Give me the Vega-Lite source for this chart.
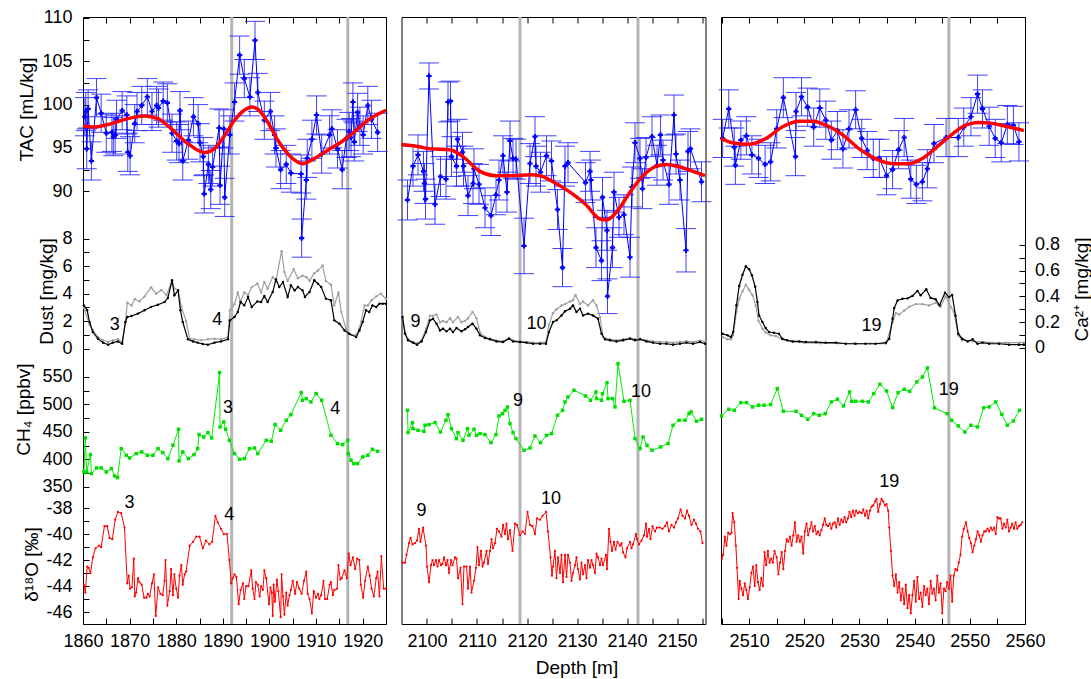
{
"$schema":"https://vega.github.io/schema/vega-lite/v6.json",
"padding":{"left":13,"top":8,"right":0,"bottom":0},
"background":"white",
"spacing":15.5,
"bounds":"flush",
"config":{"font":"Liberation Sans","view":{"stroke":"#000000","strokeWidth":1},
"axis":{"grid":false,"domain":false,"tickSize":-6,"tickColor":"#000000","tickWidth":1,"labelFontSize":18,"labelColor":"#000000","labelPadding":17,"titleFontSize":19,"titleFontWeight":"normal","titleColor":"#000000","labelFlush":false,"labelOverlap":false}},
"datasets":{
"vl1":[{"d":1891.9},{"d":1916.8}],
"vl2":[{"d":2118.6},{"d":2142.2}],
"vl3":[{"d":2546.2}],
"tac1":[{"d":1860.4,"v":98.6,"e":2.2},{"d":1860.6,"v":99.2,"e":2.2},{"d":1860.8,"v":94.9,"e":2.3},{"d":1861.1,"v":99.5,"e":2.2},{"d":1861.8,"v":93.5,"e":2.2},{"d":1862.9,"v":100.8,"e":2.2},{"d":1863.9,"v":99.0,"e":2.2},{"d":1865.0,"v":96.7,"e":2.2},{"d":1866.2,"v":96.8,"e":2.2},{"d":1866.5,"v":96.3,"e":2.2},{"d":1866.9,"v":96.5,"e":2.2},{"d":1867.2,"v":98.3,"e":2.2},{"d":1868.4,"v":99.3,"e":2.2},{"d":1869.4,"v":98.8,"e":2.2},{"d":1869.6,"v":94.5,"e":2.2},{"d":1870.1,"v":94.1,"e":2.2},{"d":1871.1,"v":97.8,"e":2.2},{"d":1871.6,"v":99.2,"e":2.2},{"d":1872.6,"v":99.9,"e":2.2},{"d":1873.8,"v":100.9,"e":2.1},{"d":1874.8,"v":99.2,"e":2.2},{"d":1875.8,"v":99.9,"e":2.2},{"d":1876.2,"v":99.6,"e":2.2},{"d":1877.2,"v":100.4,"e":2.2},{"d":1878.1,"v":100.2,"e":2.2},{"d":1879.1,"v":96.7,"e":2.2},{"d":1880.1,"v":95.8,"e":2.2},{"d":1880.6,"v":95.5,"e":2.2},{"d":1880.8,"v":99.3,"e":2.2},{"d":1881.4,"v":93.5,"e":2.2},{"d":1882.6,"v":95.9,"e":2.2},{"d":1883.7,"v":98.6,"e":2.2},{"d":1884.7,"v":97.8,"e":2.2},{"d":1885.1,"v":95.6,"e":2.2},{"d":1885.8,"v":94.0,"e":2.2},{"d":1886.0,"v":89.7,"e":2.2},{"d":1886.9,"v":93.1,"e":2.2},{"d":1887.4,"v":90.2,"e":2.2},{"d":1887.8,"v":92.8,"e":2.2},{"d":1889.2,"v":97.3,"e":2.2},{"d":1889.4,"v":90.7,"e":2.2},{"d":1890.2,"v":97.2,"e":2.2},{"d":1890.4,"v":89.3,"e":2.2},{"d":1891.5,"v":96.5,"e":2.2},{"d":1892.5,"v":100.3,"e":2.2},{"d":1893.6,"v":105.7,"e":2.2},{"d":1894.6,"v":103.0,"e":2.2},{"d":1895.8,"v":100.9,"e":2.2},{"d":1896.9,"v":107.4,"e":2.2},{"d":1897.5,"v":101.4,"e":2.2},{"d":1898.9,"v":98.2,"e":2.2},{"d":1900.2,"v":99.2,"e":2.2},{"d":1901.1,"v":96.5,"e":2.2},{"d":1901.4,"v":95.0,"e":2.2},{"d":1902.4,"v":92.5,"e":2.2},{"d":1903.6,"v":93.1,"e":2.2},{"d":1904.6,"v":92.1,"e":2.2},{"d":1906.8,"v":92.0,"e":2.2},{"d":1906.9,"v":84.6,"e":2.2},{"d":1907.9,"v":91.3,"e":2.2},{"d":1908.1,"v":93.8,"e":2.2},{"d":1909.1,"v":96.0,"e":2.2},{"d":1910.1,"v":98.8,"e":2.2},{"d":1911.2,"v":94.3,"e":2.2},{"d":1912.9,"v":96.5,"e":2.2},{"d":1913.4,"v":97.2,"e":2.2},{"d":1914.6,"v":94.9,"e":2.2},{"d":1915.6,"v":92.5,"e":2.2},{"d":1916.5,"v":96.1,"e":2.2},{"d":1917.1,"v":96.9,"e":2.2},{"d":1917.5,"v":96.2,"e":2.2},{"d":1917.9,"v":100.3,"e":2.2},{"d":1918.2,"v":95.7,"e":2.2},{"d":1918.9,"v":99.1,"e":2.2},{"d":1919.4,"v":97.5,"e":2.2},{"d":1920.1,"v":96.5,"e":2.2},{"d":1921.1,"v":99.9,"e":2.2},{"d":1921.9,"v":98.3,"e":2.2},{"d":1923.2,"v":96.8,"e":2.2}],
"sm1":[{"d":1860,"v":97.54},{"d":1862.5,"v":97.42},{"d":1866.1,"v":97.81},{"d":1869.6,"v":98.38},{"d":1873.2,"v":98.69},{"d":1876.1,"v":98.38},{"d":1878.9,"v":97.23},{"d":1882.5,"v":95.5},{"d":1886.1,"v":94.46},{"d":1888.2,"v":94.92},{"d":1890.4,"v":96.46},{"d":1892.5,"v":98.19},{"d":1894.6,"v":99.35},{"d":1896.1,"v":99.73},{"d":1897.5,"v":99.46},{"d":1899.6,"v":98.0},{"d":1901.8,"v":95.88},{"d":1904.6,"v":93.96},{"d":1907.1,"v":93.19},{"d":1909.6,"v":93.77},{"d":1912.5,"v":94.73},{"d":1915.4,"v":95.69},{"d":1918.2,"v":96.85},{"d":1921.1,"v":98.19},{"d":1925,"v":99.35}],
"du1":[{"d":1860.2,"v":3.15},{"d":1860.9,"v":2.79},{"d":1861.4,"v":1.94},{"d":1862.1,"v":1.21},{"d":1863.2,"v":0.73},{"d":1864.3,"v":0.44},{"d":1865.4,"v":0.29},{"d":1866.4,"v":0.44},{"d":1867.5,"v":0.53},{"d":1868.4,"v":0.36},{"d":1869.1,"v":1.94},{"d":1869.5,"v":2.3},{"d":1870.4,"v":2.38},{"d":1871.8,"v":2.55},{"d":1873.2,"v":2.79},{"d":1874.6,"v":3.03},{"d":1876.1,"v":3.2},{"d":1877.5,"v":3.39},{"d":1878.2,"v":3.68},{"d":1879.1,"v":4.97},{"d":1879.6,"v":3.88},{"d":1880.4,"v":4.24},{"d":1880.9,"v":2.79},{"d":1881.4,"v":1.94},{"d":1882.5,"v":0.68},{"d":1883.6,"v":0.53},{"d":1884.6,"v":0.44},{"d":1885.7,"v":0.34},{"d":1886.8,"v":0.29},{"d":1888.2,"v":0.44},{"d":1889.6,"v":0.53},{"d":1891.1,"v":0.68},{"d":1891.5,"v":2.06},{"d":1892.5,"v":2.3},{"d":1893.2,"v":2.67},{"d":1893.8,"v":3.39},{"d":1894.6,"v":3.15},{"d":1895.4,"v":3.76},{"d":1896.2,"v":3.03},{"d":1897.4,"v":3.44},{"d":1898.2,"v":3.39},{"d":1898.9,"v":3.83},{"d":1899.6,"v":3.39},{"d":1900.7,"v":4.12},{"d":1901.4,"v":5.04},{"d":1902.1,"v":4.48},{"d":1902.9,"v":4.85},{"d":1903.9,"v":3.76},{"d":1904.6,"v":4.61},{"d":1905.4,"v":4.24},{"d":1906.1,"v":4.48},{"d":1907.1,"v":4.24},{"d":1907.6,"v":3.76},{"d":1908.6,"v":4.12},{"d":1909.6,"v":4.97},{"d":1910.4,"v":4.73},{"d":1911.1,"v":4.48},{"d":1912.1,"v":3.64},{"d":1913.2,"v":3.52},{"d":1913.9,"v":2.06},{"d":1915.0,"v":1.82},{"d":1916.1,"v":1.33},{"d":1917.1,"v":1.09},{"d":1918.6,"v":0.85},{"d":1919.3,"v":1.33},{"d":1920.0,"v":1.94},{"d":1920.7,"v":2.79},{"d":1921.4,"v":2.67},{"d":1922.1,"v":3.15},{"d":1922.9,"v":3.03},{"d":1923.6,"v":3.27},{"d":1924.3,"v":3.27},{"d":1925.0,"v":3.27}],
"ca1":[{"d":1860.2,"v":0.31},{"d":1861.4,"v":0.18},{"d":1862.1,"v":0.14},{"d":1863.2,"v":0.085},{"d":1864.3,"v":0.06},{"d":1865.4,"v":0.047},{"d":1866.4,"v":0.06},{"d":1867.5,"v":0.067},{"d":1868.4,"v":0.047},{"d":1869.1,"v":0.2},{"d":1869.5,"v":0.35},{"d":1870.4,"v":0.33},{"d":1871.1,"v":0.38},{"d":1872.1,"v":0.36},{"d":1873.2,"v":0.4},{"d":1874.6,"v":0.47},{"d":1875.7,"v":0.42},{"d":1876.8,"v":0.45},{"d":1877.9,"v":0.41},{"d":1879.1,"v":0.52},{"d":1879.6,"v":0.46},{"d":1880.4,"v":0.45},{"d":1881.1,"v":0.32},{"d":1882.1,"v":0.21},{"d":1882.9,"v":0.072},{"d":1883.9,"v":0.067},{"d":1885.4,"v":0.06},{"d":1886.8,"v":0.067},{"d":1888.2,"v":0.072},{"d":1889.6,"v":0.067},{"d":1891.1,"v":0.085},{"d":1891.5,"v":0.29},{"d":1892.5,"v":0.34},{"d":1893.2,"v":0.43},{"d":1893.8,"v":0.36},{"d":1894.6,"v":0.43},{"d":1895.4,"v":0.41},{"d":1896.2,"v":0.47},{"d":1897.4,"v":0.5},{"d":1898.2,"v":0.43},{"d":1898.9,"v":0.51},{"d":1899.6,"v":0.46},{"d":1900.7,"v":0.55},{"d":1901.4,"v":0.52},{"d":1902.6,"v":0.75},{"d":1903.2,"v":0.59},{"d":1903.9,"v":0.52},{"d":1905.2,"v":0.61},{"d":1906.1,"v":0.54},{"d":1907.1,"v":0.56},{"d":1907.9,"v":0.55},{"d":1908.6,"v":0.52},{"d":1909.6,"v":0.58},{"d":1910.4,"v":0.6},{"d":1911.4,"v":0.64},{"d":1912.1,"v":0.52},{"d":1913.2,"v":0.49},{"d":1913.9,"v":0.33},{"d":1914.8,"v":0.43},{"d":1915.4,"v":0.28},{"d":1916.4,"v":0.15},{"d":1917.5,"v":0.1},{"d":1918.6,"v":0.1},{"d":1919.3,"v":0.15},{"d":1920.4,"v":0.33},{"d":1921.1,"v":0.33},{"d":1921.9,"v":0.37},{"d":1922.9,"v":0.4},{"d":1923.9,"v":0.42},{"d":1925.0,"v":0.38}],
"ch1":[{"d":1860.2,"v":377},{"d":1860.5,"v":439},{"d":1860.8,"v":377},{"d":1861.6,"v":408.5},{"d":1861.8,"v":373.9},{"d":1862.9,"v":384.2},{"d":1863.9,"v":384.2},{"d":1865.0,"v":376.9},{"d":1866.1,"v":383},{"d":1866.8,"v":369.6},{"d":1867.4,"v":366.6},{"d":1868.2,"v":419.4},{"d":1869.3,"v":407.3},{"d":1870.0,"v":402.4},{"d":1871.4,"v":410.3},{"d":1872.6,"v":413.4},{"d":1873.8,"v":407.3},{"d":1875.0,"v":407.3},{"d":1876.1,"v":419.4},{"d":1877.1,"v":412.2},{"d":1878.2,"v":401.2},{"d":1879.3,"v":425.5},{"d":1880.5,"v":454.7},{"d":1880.6,"v":397},{"d":1881.4,"v":413.4},{"d":1882.6,"v":401.2},{"d":1883.8,"v":408.5},{"d":1884.6,"v":419.4},{"d":1884.9,"v":445},{"d":1885.9,"v":440.7},{"d":1886.8,"v":448.6},{"d":1887.6,"v":438.9},{"d":1889.3,"v":558},{"d":1889.4,"v":458.9},{"d":1890.2,"v":468},{"d":1890.6,"v":454.7},{"d":1891.4,"v":434.6},{"d":1892.5,"v":410.3},{"d":1893.6,"v":400},{"d":1894.6,"v":401.2},{"d":1895.7,"v":419.4},{"d":1896.8,"v":420.7},{"d":1897.5,"v":410.3},{"d":1899.3,"v":434.6},{"d":1900.4,"v":432.8},{"d":1901.2,"v":463.2},{"d":1902.4,"v":452.9},{"d":1903.6,"v":471.1},{"d":1904.6,"v":481.4},{"d":1906.8,"v":521.5},{"d":1907.1,"v":507.5},{"d":1907.9,"v":510.6},{"d":1908.9,"v":504.5},{"d":1910.0,"v":519.7},{"d":1911.2,"v":507.5},{"d":1913.2,"v":443.7},{"d":1914.6,"v":428.6},{"d":1915.7,"v":426.7},{"d":1916.8,"v":434.6},{"d":1916.9,"v":410.3},{"d":1917.5,"v":398.2},{"d":1918.1,"v":392.1},{"d":1918.9,"v":392.1},{"d":1920.0,"v":404.3},{"d":1921.1,"v":407.3},{"d":1922.1,"v":418.2},{"d":1923.2,"v":414.6}],
"ox1":[{"d":1860.2,"v":-43.9},{"d":1860.5,"v":-44.5},{"d":1860.9,"v":-42.5},{"d":1861.2,"v":-42.6},{"d":1861.6,"v":-43.0},{"d":1862.1,"v":-41.8},{"d":1862.7,"v":-41.1},{"d":1863.4,"v":-40.9},{"d":1863.9,"v":-41.0},{"d":1864.6,"v":-39.4},{"d":1865.2,"v":-39.4},{"d":1865.7,"v":-40.3},{"d":1866.3,"v":-40.4},{"d":1866.9,"v":-38.9},{"d":1867.5,"v":-38.3},{"d":1868.2,"v":-38.4},{"d":1868.9,"v":-39.5},{"d":1869.5,"v":-43.8},{"d":1869.8,"v":-43.2},{"d":1870.1,"v":-44.2},{"d":1870.5,"v":-44.1},{"d":1870.9,"v":-41.9},{"d":1871.1,"v":-44.8},{"d":1871.4,"v":-44.5},{"d":1871.8,"v":-43.4},{"d":1872.1,"v":-43.7},{"d":1872.6,"v":-43.9},{"d":1873.1,"v":-44.9},{"d":1873.6,"v":-44.9},{"d":1873.9,"v":-44.6},{"d":1874.3,"v":-44.8},{"d":1874.8,"v":-43.8},{"d":1875.2,"v":-43.1},{"d":1875.6,"v":-46.3},{"d":1876.1,"v":-44.1},{"d":1876.6,"v":-44.6},{"d":1877.1,"v":-44.7},{"d":1877.5,"v":-43.6},{"d":1877.7,"v":-42.0},{"d":1878.1,"v":-45.5},{"d":1878.6,"v":-44.4},{"d":1878.9,"v":-42.7},{"d":1879.3,"v":-44.7},{"d":1879.6,"v":-43.1},{"d":1880.0,"v":-44.2},{"d":1880.4,"v":-44.9},{"d":1880.7,"v":-43.2},{"d":1881.1,"v":-42.4},{"d":1881.4,"v":-43.9},{"d":1881.8,"v":-43.1},{"d":1882.1,"v":-42.9},{"d":1882.9,"v":-40.9},{"d":1883.6,"v":-40.6},{"d":1884.3,"v":-40.2},{"d":1885.0,"v":-40.2},{"d":1885.7,"v":-41.1},{"d":1886.4,"v":-40.5},{"d":1887.1,"v":-40.8},{"d":1887.7,"v":-40.6},{"d":1888.4,"v":-38.6},{"d":1888.9,"v":-39.1},{"d":1889.6,"v":-39.6},{"d":1890.2,"v":-40.0},{"d":1890.9,"v":-40.0},{"d":1891.4,"v":-42.0},{"d":1891.8,"v":-43.8},{"d":1892.1,"v":-43.4},{"d":1892.5,"v":-43.1},{"d":1892.9,"v":-43.3},{"d":1893.4,"v":-45.4},{"d":1893.8,"v":-44.3},{"d":1894.3,"v":-43.8},{"d":1894.6,"v":-45.0},{"d":1895.0,"v":-44.0},{"d":1895.5,"v":-44.0},{"d":1896.1,"v":-42.8},{"d":1896.4,"v":-44.2},{"d":1896.8,"v":-45.0},{"d":1897.1,"v":-43.7},{"d":1897.5,"v":-43.9},{"d":1897.9,"v":-44.8},{"d":1898.2,"v":-44.0},{"d":1898.6,"v":-44.3},{"d":1898.9,"v":-42.8},{"d":1899.3,"v":-43.4},{"d":1899.9,"v":-45.4},{"d":1900.2,"v":-44.1},{"d":1900.5,"v":-44.5},{"d":1900.7,"v":-46.3},{"d":1900.9,"v":-43.9},{"d":1901.2,"v":-45.2},{"d":1901.6,"v":-43.5},{"d":1901.9,"v":-44.4},{"d":1902.4,"v":-46.4},{"d":1902.6,"v":-43.1},{"d":1902.9,"v":-44.8},{"d":1903.2,"v":-46.2},{"d":1903.6,"v":-44.5},{"d":1903.9,"v":-45.5},{"d":1904.3,"v":-44.7},{"d":1904.6,"v":-44.3},{"d":1905.0,"v":-43.6},{"d":1905.5,"v":-44.6},{"d":1905.9,"v":-43.7},{"d":1906.4,"v":-44.2},{"d":1906.9,"v":-44.6},{"d":1907.4,"v":-43.6},{"d":1907.9,"v":-42.9},{"d":1908.2,"v":-44.6},{"d":1908.6,"v":-45.0},{"d":1909.1,"v":-46.1},{"d":1909.5,"v":-44.4},{"d":1910.0,"v":-44.9},{"d":1910.4,"v":-44.6},{"d":1910.7,"v":-45.0},{"d":1911.1,"v":-44.7},{"d":1911.6,"v":-43.6},{"d":1911.9,"v":-45.0},{"d":1912.4,"v":-45.0},{"d":1912.9,"v":-43.9},{"d":1913.2,"v":-43.7},{"d":1913.6,"v":-44.7},{"d":1913.9,"v":-44.3},{"d":1914.5,"v":-44.2},{"d":1914.8,"v":-42.4},{"d":1915.2,"v":-43.5},{"d":1915.5,"v":-43.4},{"d":1916.1,"v":-42.8},{"d":1916.6,"v":-43.4},{"d":1917.0,"v":-41.5},{"d":1917.4,"v":-42.4},{"d":1917.9,"v":-41.8},{"d":1918.4,"v":-42.7},{"d":1918.8,"v":-41.9},{"d":1919.3,"v":-42.0},{"d":1919.6,"v":-43.9},{"d":1920.1,"v":-44.9},{"d":1920.5,"v":-43.6},{"d":1921.1,"v":-42.5},{"d":1921.5,"v":-43.2},{"d":1921.9,"v":-44.2},{"d":1922.4,"v":-44.8},{"d":1922.9,"v":-43.4},{"d":1923.2,"v":-42.9},{"d":1923.6,"v":-44.8},{"d":1924.0,"v":-41.7},{"d":1924.5,"v":-44.2},{"d":1925.0,"v":-44.2}],
"td1":[{"d":1866.8,"v":1.7,"t":"3"},{"d":1888.8,"v":2.07,"t":"4"}],
"tc1":[{"d":1891.1,"v":493.5,"t":"3"},{"d":1914.1,"v":492,"t":"4"}],
"to1":[{"d":1870,"v":-37.6,"t":"3"},{"d":1891.4,"v":-38.5,"t":"4"}],
"tac2":[{"d":2096.1,"v":89.0,"e":2.3},{"d":2097.2,"v":92.9,"e":2.3},{"d":2098.2,"v":94.2,"e":2.3},{"d":2099.3,"v":92.3,"e":2.3},{"d":2099.5,"v":90.9,"e":2.3},{"d":2099.7,"v":89.1,"e":2.3},{"d":2100.4,"v":103.3,"e":1.5},{"d":2101.6,"v":88.5,"e":2.3},{"d":2102.7,"v":91.7,"e":2.3},{"d":2103.8,"v":91.4,"e":2.3},{"d":2104.2,"v":100.3,"e":2.3},{"d":2104.7,"v":100.4,"e":2.3},{"d":2104.9,"v":94.0,"e":2.3},{"d":2105.9,"v":92.9,"e":2.3},{"d":2106.1,"v":96.0,"e":2.3},{"d":2107.1,"v":94.5,"e":2.3},{"d":2107.3,"v":92.9,"e":2.3},{"d":2108.2,"v":89.5,"e":2.3},{"d":2109.2,"v":90.9,"e":2.3},{"d":2109.4,"v":92.6,"e":2.3},{"d":2110.4,"v":90.8,"e":2.3},{"d":2111.6,"v":88.1,"e":2.3},{"d":2112.8,"v":87.2,"e":2.3},{"d":2113.8,"v":89.6,"e":2.3},{"d":2114.4,"v":91.3,"e":2.3},{"d":2115.2,"v":94.1,"e":2.3},{"d":2116.0,"v":89.9,"e":2.3},{"d":2116.6,"v":95.8,"e":2.3},{"d":2117.2,"v":93.8,"e":2.3},{"d":2117.8,"v":93.7,"e":2.3},{"d":2119.4,"v":83.7,"e":3.2},{"d":2120.6,"v":93.2,"e":2.3},{"d":2121.6,"v":96.3,"e":2.3},{"d":2121.8,"v":92.9,"e":2.3},{"d":2122.7,"v":92.2,"e":2.3},{"d":2123.9,"v":94.1,"e":2.3},{"d":2124.9,"v":93.5,"e":2.3},{"d":2126.1,"v":87.9,"e":2.3},{"d":2127.1,"v":81.2,"e":2.2},{"d":2127.6,"v":92.9,"e":2.3},{"d":2128.2,"v":93.3,"e":2.3},{"d":2131.7,"v":91.0,"e":2.3},{"d":2132.6,"v":92.3,"e":2.3},{"d":2132.8,"v":91.3,"e":2.3},{"d":2133.8,"v":83.5,"e":2.3},{"d":2134.9,"v":82.0,"e":2.3},{"d":2135.1,"v":89.3,"e":2.3},{"d":2136.0,"v":85.5,"e":2.3},{"d":2136.1,"v":77.9,"e":2.0},{"d":2137.1,"v":83.5,"e":2.3},{"d":2137.4,"v":89.9,"e":2.3},{"d":2138.4,"v":87.0,"e":2.3},{"d":2139.4,"v":87.3,"e":2.3},{"d":2140.6,"v":82.4,"e":2.3},{"d":2141.0,"v":90.5,"e":2.3},{"d":2141.6,"v":95.6,"e":2.3},{"d":2142.6,"v":93.8,"e":2.3},{"d":2143.1,"v":90.3,"e":2.3},{"d":2143.8,"v":93.9,"e":2.3},{"d":2145.0,"v":96.3,"e":2.3},{"d":2146.0,"v":93.0,"e":2.3},{"d":2146.7,"v":96.5,"e":2.3},{"d":2147.2,"v":93.6,"e":2.3},{"d":2148.4,"v":90.8,"e":2.3},{"d":2149.4,"v":98.8,"e":2.3},{"d":2149.8,"v":94.3,"e":2.3},{"d":2150.6,"v":91.3,"e":2.3},{"d":2151.8,"v":83.2,"e":2.5},{"d":2152.2,"v":94.6,"e":2.3},{"d":2152.7,"v":94.9,"e":2.3},{"d":2154.9,"v":91.1,"e":2.3}],
"sm2":[{"d":2094.9,"v":95.4},{"d":2097.9,"v":95.2},{"d":2100.6,"v":94.9},{"d":2104.6,"v":94.8},{"d":2107.2,"v":94.0},{"d":2110.6,"v":92.3},{"d":2113.9,"v":91.8},{"d":2117.2,"v":91.8},{"d":2120.6,"v":91.9},{"d":2122.6,"v":91.8},{"d":2125.2,"v":91.1},{"d":2128.6,"v":89.9},{"d":2131.9,"v":88.4},{"d":2134.6,"v":86.8},{"d":2135.9,"v":86.7},{"d":2137.9,"v":87.6},{"d":2140.6,"v":89.9},{"d":2143.2,"v":91.8},{"d":2145.9,"v":92.9},{"d":2147.9,"v":93.1},{"d":2150.6,"v":92.8},{"d":2153.2,"v":92.3},{"d":2155.6,"v":91.8}],
"du2":[{"d":2095.1,"v":2.3},{"d":2095.6,"v":1.09},{"d":2096.2,"v":0.61},{"d":2097.2,"v":0.44},{"d":2098.0,"v":0.29},{"d":2098.9,"v":0.53},{"d":2099.8,"v":1.21},{"d":2100.6,"v":2.06},{"d":2101.2,"v":2.18},{"d":2101.9,"v":1.82},{"d":2102.6,"v":1.33},{"d":2103.2,"v":1.45},{"d":2103.9,"v":1.26},{"d":2104.6,"v":1.45},{"d":2105.2,"v":1.21},{"d":2105.9,"v":1.5},{"d":2106.9,"v":1.26},{"d":2107.6,"v":1.41},{"d":2108.2,"v":1.58},{"d":2109.1,"v":1.82},{"d":2109.9,"v":1.45},{"d":2110.6,"v":0.97},{"d":2111.6,"v":0.78},{"d":2112.6,"v":0.68},{"d":2113.9,"v":0.53},{"d":2115.2,"v":0.48},{"d":2116.4,"v":0.73},{"d":2117.2,"v":0.53},{"d":2118.6,"v":0.48},{"d":2119.9,"v":0.44},{"d":2121.2,"v":0.36},{"d":2122.6,"v":0.36},{"d":2123.8,"v":0.36},{"d":2124.4,"v":1.21},{"d":2125.2,"v":1.94},{"d":2125.9,"v":2.06},{"d":2126.9,"v":2.42},{"d":2127.6,"v":2.72},{"d":2128.6,"v":2.91},{"d":2129.2,"v":3.15},{"d":2129.9,"v":2.67},{"d":2130.6,"v":2.91},{"d":2131.2,"v":2.42},{"d":2132.2,"v":2.55},{"d":2133.2,"v":2.42},{"d":2134.2,"v":2.18},{"d":2134.9,"v":1.09},{"d":2135.6,"v":0.68},{"d":2136.6,"v":0.61},{"d":2137.9,"v":0.53},{"d":2139.2,"v":0.61},{"d":2140.6,"v":0.73},{"d":2141.6,"v":0.61},{"d":2142.6,"v":0.68},{"d":2143.9,"v":0.53},{"d":2145.2,"v":0.44},{"d":2146.6,"v":0.36},{"d":2147.9,"v":0.36},{"d":2149.2,"v":0.29},{"d":2150.6,"v":0.36},{"d":2151.9,"v":0.44},{"d":2153.2,"v":0.36},{"d":2154.6,"v":0.48},{"d":2155.6,"v":0.36}],
"ca2":[{"d":2095.1,"v":0.25},{"d":2095.6,"v":0.12},{"d":2096.2,"v":0.067},{"d":2097.2,"v":0.047},{"d":2098.0,"v":0.034},{"d":2098.9,"v":0.059},{"d":2099.8,"v":0.15},{"d":2100.6,"v":0.25},{"d":2101.2,"v":0.25},{"d":2101.9,"v":0.26},{"d":2102.6,"v":0.2},{"d":2103.2,"v":0.21},{"d":2103.9,"v":0.2},{"d":2104.6,"v":0.23},{"d":2105.2,"v":0.2},{"d":2106.2,"v":0.24},{"d":2106.9,"v":0.2},{"d":2107.6,"v":0.21},{"d":2108.2,"v":0.23},{"d":2109.1,"v":0.28},{"d":2109.9,"v":0.23},{"d":2110.6,"v":0.12},{"d":2111.6,"v":0.085},{"d":2112.6,"v":0.072},{"d":2113.9,"v":0.059},{"d":2115.2,"v":0.052},{"d":2116.4,"v":0.078},{"d":2117.2,"v":0.059},{"d":2118.6,"v":0.052},{"d":2119.9,"v":0.047},{"d":2121.2,"v":0.041},{"d":2122.6,"v":0.041},{"d":2123.8,"v":0.047},{"d":2124.4,"v":0.18},{"d":2125.2,"v":0.27},{"d":2125.9,"v":0.3},{"d":2126.9,"v":0.33},{"d":2127.6,"v":0.34},{"d":2128.6,"v":0.36},{"d":2129.2,"v":0.37},{"d":2129.7,"v":0.41},{"d":2130.6,"v":0.34},{"d":2131.2,"v":0.36},{"d":2132.2,"v":0.33},{"d":2133.2,"v":0.37},{"d":2133.9,"v":0.33},{"d":2134.6,"v":0.24},{"d":2135.2,"v":0.085},{"d":2136.6,"v":0.067},{"d":2137.9,"v":0.059},{"d":2139.2,"v":0.067},{"d":2140.6,"v":0.078},{"d":2141.6,"v":0.067},{"d":2142.6,"v":0.072},{"d":2143.9,"v":0.059},{"d":2145.2,"v":0.052},{"d":2146.6,"v":0.047},{"d":2147.9,"v":0.047},{"d":2149.2,"v":0.041},{"d":2150.6,"v":0.047},{"d":2151.9,"v":0.052},{"d":2153.2,"v":0.047},{"d":2154.6,"v":0.057},{"d":2155.6,"v":0.047}],
"ch2":[{"d":2096.1,"v":489.3},{"d":2096.2,"v":448.6},{"d":2097.1,"v":466.8},{"d":2097.2,"v":455.9},{"d":2098.2,"v":452.9},{"d":2099.4,"v":451.0},{"d":2099.6,"v":462.0},{"d":2100.4,"v":463.2},{"d":2101.6,"v":466.8},{"d":2102.7,"v":449.8},{"d":2103.8,"v":471.1},{"d":2104.2,"v":481.4},{"d":2104.9,"v":455.9},{"d":2105.9,"v":437.7},{"d":2106.2,"v":448.6},{"d":2107.2,"v":434.6},{"d":2108.1,"v":455.9},{"d":2108.4,"v":443.7},{"d":2109.4,"v":454.7},{"d":2109.9,"v":443.7},{"d":2110.6,"v":446.8},{"d":2111.6,"v":445.0},{"d":2112.8,"v":430.4},{"d":2113.8,"v":445.0},{"d":2114.4,"v":479.0},{"d":2115.1,"v":483.2},{"d":2115.6,"v":489.3},{"d":2116.1,"v":495.4},{"d":2116.6,"v":465.0},{"d":2117.2,"v":448.6},{"d":2117.8,"v":437.7},{"d":2119.4,"v":416.4},{"d":2120.6,"v":420.7},{"d":2121.6,"v":442.5},{"d":2122.7,"v":430.4},{"d":2123.9,"v":443.7},{"d":2124.9,"v":446.8},{"d":2126.1,"v":480.2},{"d":2127.1,"v":489.3},{"d":2127.6,"v":504.5},{"d":2128.2,"v":513.6},{"d":2129.4,"v":525.8},{"d":2131.7,"v":515.4},{"d":2132.7,"v":507.5},{"d":2133.8,"v":522.7},{"d":2133.9,"v":510.6},{"d":2134.9,"v":507.5},{"d":2135.1,"v":519.7},{"d":2136.0,"v":539.7},{"d":2136.2,"v":510.6},{"d":2137.1,"v":510.6},{"d":2137.6,"v":495.4},{"d":2138.2,"v":574.4},{"d":2139.4,"v":505.7},{"d":2140.6,"v":507.5},{"d":2141.6,"v":437.7},{"d":2142.6,"v":419.4},{"d":2143.2,"v":440.7},{"d":2144.0,"v":425.5},{"d":2145.0,"v":416.4},{"d":2146.7,"v":422.5},{"d":2148.2,"v":428.6},{"d":2149.2,"v":462.0},{"d":2150.4,"v":471.1},{"d":2151.6,"v":471.1},{"d":2152.4,"v":483.2},{"d":2152.8,"v":486.3},{"d":2153.9,"v":469.3},{"d":2154.9,"v":472.9}],
"ox2":[{"d":2095.1,"v":-42.2},{"d":2095.6,"v":-42.2},{"d":2095.9,"v":-41.6},{"d":2096.4,"v":-40.7},{"d":2096.7,"v":-40.3},{"d":2097.1,"v":-40.8},{"d":2097.6,"v":-40.7},{"d":2098.0,"v":-40.5},{"d":2098.4,"v":-39.6},{"d":2098.7,"v":-40.6},{"d":2099.2,"v":-39.5},{"d":2099.8,"v":-40.9},{"d":2100.0,"v":-42.5},{"d":2100.4,"v":-43.7},{"d":2100.8,"v":-42.4},{"d":2101.1,"v":-42.0},{"d":2101.4,"v":-42.4},{"d":2101.8,"v":-42.0},{"d":2102.1,"v":-42.5},{"d":2102.4,"v":-42.0},{"d":2102.8,"v":-42.4},{"d":2103.1,"v":-42.3},{"d":2103.4,"v":-41.8},{"d":2103.8,"v":-42.4},{"d":2104.1,"v":-42.0},{"d":2104.4,"v":-43.0},{"d":2104.8,"v":-42.0},{"d":2105.1,"v":-42.4},{"d":2105.6,"v":-41.8},{"d":2105.9,"v":-41.9},{"d":2106.2,"v":-43.4},{"d":2106.7,"v":-42.6},{"d":2107.1,"v":-45.4},{"d":2107.4,"v":-42.5},{"d":2107.9,"v":-42.5},{"d":2108.2,"v":-44.2},{"d":2108.6,"v":-42.5},{"d":2108.9,"v":-44.5},{"d":2109.4,"v":-43.6},{"d":2109.8,"v":-42.6},{"d":2110.1,"v":-41.0},{"d":2110.4,"v":-42.4},{"d":2110.8,"v":-41.3},{"d":2111.1,"v":-42.5},{"d":2111.4,"v":-42.2},{"d":2111.9,"v":-41.3},{"d":2112.2,"v":-42.3},{"d":2112.6,"v":-41.3},{"d":2112.9,"v":-40.4},{"d":2113.2,"v":-41.1},{"d":2113.6,"v":-40.7},{"d":2114.0,"v":-39.6},{"d":2114.4,"v":-39.8},{"d":2114.9,"v":-40.2},{"d":2115.2,"v":-39.3},{"d":2115.6,"v":-40.0},{"d":2115.9,"v":-39.2},{"d":2116.2,"v":-40.4},{"d":2116.6,"v":-39.7},{"d":2117.1,"v":-41.3},{"d":2117.6,"v":-39.2},{"d":2118.0,"v":-39.3},{"d":2118.6,"v":-40.1},{"d":2119.1,"v":-39.8},{"d":2119.6,"v":-40.0},{"d":2120.1,"v":-38.3},{"d":2120.6,"v":-39.3},{"d":2121.1,"v":-39.4},{"d":2121.6,"v":-40.0},{"d":2122.0,"v":-38.8},{"d":2122.6,"v":-38.9},{"d":2123.1,"v":-38.6},{"d":2123.8,"v":-38.3},{"d":2124.2,"v":-39.8},{"d":2124.7,"v":-41.8},{"d":2125.0,"v":-43.2},{"d":2125.2,"v":-42.5},{"d":2125.6,"v":-41.3},{"d":2125.9,"v":-43.4},{"d":2126.2,"v":-41.8},{"d":2126.6,"v":-43.0},{"d":2126.9,"v":-41.6},{"d":2127.2,"v":-43.7},{"d":2127.6,"v":-41.6},{"d":2127.9,"v":-43.3},{"d":2128.2,"v":-41.6},{"d":2128.6,"v":-42.2},{"d":2128.9,"v":-43.6},{"d":2129.2,"v":-43.0},{"d":2129.6,"v":-42.4},{"d":2129.9,"v":-41.8},{"d":2130.2,"v":-42.7},{"d":2130.6,"v":-43.5},{"d":2130.9,"v":-42.2},{"d":2131.2,"v":-43.1},{"d":2131.6,"v":-42.4},{"d":2131.9,"v":-43.4},{"d":2132.2,"v":-42.0},{"d":2132.6,"v":-42.6},{"d":2132.9,"v":-42.0},{"d":2133.2,"v":-42.4},{"d":2133.6,"v":-43.0},{"d":2133.9,"v":-41.5},{"d":2134.2,"v":-41.8},{"d":2134.6,"v":-42.4},{"d":2134.9,"v":-41.9},{"d":2135.2,"v":-42.4},{"d":2135.8,"v":-41.6},{"d":2136.0,"v":-42.7},{"d":2136.4,"v":-39.6},{"d":2136.7,"v":-40.6},{"d":2137.0,"v":-41.3},{"d":2137.4,"v":-40.6},{"d":2137.7,"v":-41.2},{"d":2138.1,"v":-40.6},{"d":2138.6,"v":-40.9},{"d":2138.9,"v":-40.7},{"d":2139.2,"v":-41.4},{"d":2139.7,"v":-41.8},{"d":2140.0,"v":-41.1},{"d":2140.6,"v":-40.6},{"d":2140.9,"v":-41.1},{"d":2141.2,"v":-40.8},{"d":2141.8,"v":-40.0},{"d":2142.0,"v":-40.4},{"d":2142.4,"v":-40.8},{"d":2142.9,"v":-40.5},{"d":2143.4,"v":-40.1},{"d":2143.8,"v":-39.2},{"d":2144.0,"v":-40.2},{"d":2144.4,"v":-39.6},{"d":2144.7,"v":-40.4},{"d":2145.1,"v":-39.4},{"d":2145.6,"v":-39.8},{"d":2146.0,"v":-39.5},{"d":2146.6,"v":-39.5},{"d":2147.1,"v":-39.6},{"d":2147.6,"v":-39.4},{"d":2148.0,"v":-39.1},{"d":2148.4,"v":-39.8},{"d":2148.9,"v":-39.3},{"d":2149.4,"v":-39.5},{"d":2149.8,"v":-39.1},{"d":2150.2,"v":-38.8},{"d":2150.7,"v":-38.1},{"d":2151.1,"v":-38.6},{"d":2151.6,"v":-38.8},{"d":2152.0,"v":-38.2},{"d":2152.4,"v":-38.6},{"d":2152.9,"v":-39.3},{"d":2153.4,"v":-38.9},{"d":2153.8,"v":-39.2},{"d":2154.2,"v":-39.6},{"d":2154.7,"v":-39.8},{"d":2155.1,"v":-40.7}],
"td2":[{"d":2097.7,"v":1.94,"t":"9"},{"d":2121.9,"v":1.82,"t":"10"}],
"tc2":[{"d":2118.2,"v":505.7,"t":"9"},{"d":2142.8,"v":522.7,"t":"10"}],
"to2":[{"d":2098.9,"v":-38.2,"t":"9"},{"d":2124.8,"v":-37.3,"t":"10"}],
"tac3":[{"d":2505.2,"v":96.1,"e":2.2},{"d":2506.3,"v":99.5,"e":2.2},{"d":2507.3,"v":95.1,"e":2.2},{"d":2507.5,"v":93.0,"e":2.2},{"d":2508.5,"v":95.9,"e":2.2},{"d":2509.5,"v":96.4,"e":2.2},{"d":2510.5,"v":94.2,"e":2.2},{"d":2511.7,"v":93.8,"e":2.2},{"d":2512.9,"v":93.1,"e":2.2},{"d":2513.9,"v":93.4,"e":2.2},{"d":2515.0,"v":97.2,"e":2.2},{"d":2516.2,"v":100.8,"e":2.3},{"d":2518.4,"v":94.0,"e":2.2},{"d":2518.5,"v":99.2,"e":2.2},{"d":2519.5,"v":100.9,"e":2.2},{"d":2520.6,"v":99.7,"e":2.2},{"d":2521.7,"v":97.4,"e":2.2},{"d":2522.8,"v":99.6,"e":2.2},{"d":2523.9,"v":98.2,"e":2.2},{"d":2524.9,"v":95.9,"e":2.2},{"d":2526.0,"v":97.0,"e":2.2},{"d":2527.0,"v":94.9,"e":2.2},{"d":2528.1,"v":97.2,"e":2.2},{"d":2529.3,"v":99.4,"e":2.2},{"d":2530.4,"v":96.1,"e":2.2},{"d":2531.4,"v":94.7,"e":2.2},{"d":2532.5,"v":93.8,"e":2.2},{"d":2533.6,"v":93.8,"e":2.2},{"d":2534.9,"v":91.8,"e":2.2},{"d":2536.0,"v":92.5,"e":2.2},{"d":2537.1,"v":94.8,"e":2.2},{"d":2538.1,"v":96.2,"e":2.2},{"d":2539.3,"v":91.4,"e":2.2},{"d":2540.3,"v":90.8,"e":2.2},{"d":2541.4,"v":91.1,"e":2.2},{"d":2542.3,"v":92.6,"e":2.2},{"d":2543.5,"v":95.5,"e":2.2},{"d":2545.7,"v":96.2,"e":2.2},{"d":2547.9,"v":96.2,"e":2.2},{"d":2548.9,"v":97.4,"e":2.2},{"d":2550.2,"v":98.6,"e":2.2},{"d":2551.4,"v":101.2,"e":2.2},{"d":2552.3,"v":99.5,"e":2.2},{"d":2553.5,"v":97.5,"e":2.2},{"d":2554.6,"v":96.1,"e":2.2},{"d":2555.7,"v":95.6,"e":2.2},{"d":2556.8,"v":97.7,"e":2.2},{"d":2557.9,"v":97.6,"e":2.2},{"d":2558.9,"v":95.7,"e":2.2}],
"sm3":[{"d":2504.9,"v":96.08},{"d":2507.0,"v":95.6},{"d":2510.0,"v":95.42},{"d":2513.0,"v":96.08},{"d":2516.0,"v":97.42},{"d":2519.1,"v":98.08},{"d":2521.5,"v":98.08},{"d":2523.9,"v":97.62},{"d":2526.9,"v":96.54},{"d":2529.9,"v":94.92},{"d":2532.9,"v":93.77},{"d":2536.0,"v":93.19},{"d":2539.0,"v":93.19},{"d":2541.4,"v":93.77},{"d":2543.8,"v":95.0},{"d":2546.2,"v":96.27},{"d":2548.6,"v":97.42},{"d":2551.7,"v":97.92},{"d":2554.1,"v":97.81},{"d":2557.1,"v":97.42},{"d":2559.8,"v":97.0}],
"du3":[{"d":2505.2,"v":1.09},{"d":2506.1,"v":0.97},{"d":2506.7,"v":0.85},{"d":2507.1,"v":1.21},{"d":2507.7,"v":3.16},{"d":2508.2,"v":4.56},{"d":2508.8,"v":5.38},{"d":2509.4,"v":6.0},{"d":2510.0,"v":5.77},{"d":2510.5,"v":5.34},{"d":2511.1,"v":4.5},{"d":2511.5,"v":3.4},{"d":2511.8,"v":2.42},{"d":2512.4,"v":1.94},{"d":2513.0,"v":1.5},{"d":2513.6,"v":1.21},{"d":2514.5,"v":1.16},{"d":2515.4,"v":1.09},{"d":2516.0,"v":0.73},{"d":2516.9,"v":0.61},{"d":2517.9,"v":0.53},{"d":2519.1,"v":0.53},{"d":2520.3,"v":0.48},{"d":2522.1,"v":0.48},{"d":2523.9,"v":0.44},{"d":2525.7,"v":0.44},{"d":2527.5,"v":0.36},{"d":2529.3,"v":0.36},{"d":2531.1,"v":0.36},{"d":2532.9,"v":0.36},{"d":2534.8,"v":0.44},{"d":2535.4,"v":0.73},{"d":2536.0,"v":2.18},{"d":2536.3,"v":2.96},{"d":2536.9,"v":3.5},{"d":2537.8,"v":3.63},{"d":2538.7,"v":3.66},{"d":2539.6,"v":3.84},{"d":2540.5,"v":4.2},{"d":2541.1,"v":3.88},{"d":2542.1,"v":4.32},{"d":2542.9,"v":3.69},{"d":2543.8,"v":3.59},{"d":2544.5,"v":3.16},{"d":2545.5,"v":4.07},{"d":2546.2,"v":3.75},{"d":2546.8,"v":3.9},{"d":2547.4,"v":2.42},{"d":2547.9,"v":1.09},{"d":2548.6,"v":0.73},{"d":2549.6,"v":0.53},{"d":2550.5,"v":0.68},{"d":2551.4,"v":0.36},{"d":2552.3,"v":0.44},{"d":2553.5,"v":0.36},{"d":2555.3,"v":0.36},{"d":2557.1,"v":0.29},{"d":2558.9,"v":0.29},{"d":2559.8,"v":0.29}],
"ca3":[{"d":2505.2,"v":0.085},{"d":2506.1,"v":0.067},{"d":2506.7,"v":0.067},{"d":2507.1,"v":0.098},{"d":2507.7,"v":0.28},{"d":2508.2,"v":0.38},{"d":2508.8,"v":0.44},{"d":2509.4,"v":0.49},{"d":2510.0,"v":0.45},{"d":2510.6,"v":0.41},{"d":2511.2,"v":0.33},{"d":2511.7,"v":0.21},{"d":2512.4,"v":0.15},{"d":2513.0,"v":0.12},{"d":2513.9,"v":0.098},{"d":2514.8,"v":0.093},{"d":2516.0,"v":0.067},{"d":2517.9,"v":0.047},{"d":2520.0,"v":0.041},{"d":2523.0,"v":0.036},{"d":2526.0,"v":0.036},{"d":2529.0,"v":0.034},{"d":2532.0,"v":0.034},{"d":2534.8,"v":0.034},{"d":2536.0,"v":0.2},{"d":2536.6,"v":0.27},{"d":2537.2,"v":0.26},{"d":2538.1,"v":0.29},{"d":2539.0,"v":0.32},{"d":2540.2,"v":0.34},{"d":2541.4,"v":0.34},{"d":2542.6,"v":0.33},{"d":2543.8,"v":0.35},{"d":2544.7,"v":0.32},{"d":2545.6,"v":0.4},{"d":2546.5,"v":0.32},{"d":2547.1,"v":0.28},{"d":2547.9,"v":0.098},{"d":2548.6,"v":0.06},{"d":2550.5,"v":0.052},{"d":2552.3,"v":0.047},{"d":2554.1,"v":0.041},{"d":2556.5,"v":0.041},{"d":2558.9,"v":0.041},{"d":2559.8,"v":0.041}],
"ch3":[{"d":2505.0,"v":479.0},{"d":2506.3,"v":491.1},{"d":2507.3,"v":489.3},{"d":2508.5,"v":503.3},{"d":2509.5,"v":503.3},{"d":2510.6,"v":495.4},{"d":2511.7,"v":498.4},{"d":2512.7,"v":498.4},{"d":2513.9,"v":499.6},{"d":2515.1,"v":528.8},{"d":2516.2,"v":487.5},{"d":2518.5,"v":487.5},{"d":2519.5,"v":480.2},{"d":2520.6,"v":472.9},{"d":2521.7,"v":483.2},{"d":2522.7,"v":480.2},{"d":2523.8,"v":483.2},{"d":2524.9,"v":504.5},{"d":2526.0,"v":509.4},{"d":2527.1,"v":497.2},{"d":2528.2,"v":522.7},{"d":2528.6,"v":505.7},{"d":2529.3,"v":505.7},{"d":2530.5,"v":505.7},{"d":2531.6,"v":504.5},{"d":2532.6,"v":519.7},{"d":2533.7,"v":536.7},{"d":2534.9,"v":524.5},{"d":2536.0,"v":494.2},{"d":2537.0,"v":521.5},{"d":2538.1,"v":527.6},{"d":2539.1,"v":523.9},{"d":2540.4,"v":541.0},{"d":2541.4,"v":550.1},{"d":2542.3,"v":566.5},{"d":2543.6,"v":493.6},{"d":2545.9,"v":483.2},{"d":2546.7,"v":471.1},{"d":2547.9,"v":460.8},{"d":2549.1,"v":449.8},{"d":2550.2,"v":462.0},{"d":2551.4,"v":458.9},{"d":2552.5,"v":493.6},{"d":2553.5,"v":495.4},{"d":2554.7,"v":504.5},{"d":2555.8,"v":482.0},{"d":2556.8,"v":462.0},{"d":2557.9,"v":469.9},{"d":2559.0,"v":489.3}],
"ox3":[{"d":2505.05,"v":-41.9},{"d":2505.3,"v":-41.6},{"d":2505.6,"v":-40.2},{"d":2505.9,"v":-40.9},{"d":2506.2,"v":-39.9},{"d":2506.5,"v":-40.0},{"d":2506.8,"v":-39.9},{"d":2507.0,"v":-38.4},{"d":2507.3,"v":-39.1},{"d":2507.6,"v":-40.9},{"d":2507.8,"v":-42.6},{"d":2508.1,"v":-45.0},{"d":2508.3,"v":-43.6},{"d":2508.6,"v":-44.2},{"d":2508.9,"v":-44.7},{"d":2509.2,"v":-43.8},{"d":2509.5,"v":-44.3},{"d":2509.8,"v":-45.0},{"d":2510.1,"v":-44.1},{"d":2510.4,"v":-43.0},{"d":2510.7,"v":-42.5},{"d":2511.0,"v":-44.0},{"d":2511.3,"v":-42.4},{"d":2511.6,"v":-43.7},{"d":2511.9,"v":-44.3},{"d":2512.2,"v":-43.4},{"d":2512.5,"v":-44.0},{"d":2512.8,"v":-41.4},{"d":2513.1,"v":-42.4},{"d":2513.4,"v":-41.3},{"d":2513.7,"v":-42.2},{"d":2514.0,"v":-41.9},{"d":2514.3,"v":-42.2},{"d":2514.6,"v":-41.3},{"d":2515.0,"v":-41.8},{"d":2515.3,"v":-43.1},{"d":2515.6,"v":-42.2},{"d":2515.9,"v":-41.4},{"d":2516.2,"v":-42.7},{"d":2516.5,"v":-41.3},{"d":2516.8,"v":-40.4},{"d":2517.1,"v":-40.6},{"d":2517.4,"v":-40.2},{"d":2517.7,"v":-40.9},{"d":2518.0,"v":-40.1},{"d":2518.3,"v":-39.1},{"d":2518.6,"v":-40.6},{"d":2518.9,"v":-40.1},{"d":2519.2,"v":-40.6},{"d":2519.5,"v":-40.2},{"d":2519.8,"v":-41.5},{"d":2520.1,"v":-39.8},{"d":2520.4,"v":-39.2},{"d":2520.7,"v":-40.1},{"d":2521.0,"v":-39.6},{"d":2521.3,"v":-39.1},{"d":2521.6,"v":-39.8},{"d":2521.9,"v":-39.4},{"d":2522.2,"v":-40.0},{"d":2522.5,"v":-39.8},{"d":2522.8,"v":-40.1},{"d":2523.1,"v":-39.7},{"d":2523.4,"v":-39.3},{"d":2523.7,"v":-38.8},{"d":2524.0,"v":-39.3},{"d":2524.3,"v":-39.4},{"d":2524.6,"v":-39.2},{"d":2524.9,"v":-39.6},{"d":2525.2,"v":-39.2},{"d":2525.5,"v":-39.1},{"d":2525.8,"v":-39.5},{"d":2526.1,"v":-38.8},{"d":2526.4,"v":-39.3},{"d":2526.7,"v":-38.9},{"d":2527.0,"v":-39.1},{"d":2527.3,"v":-38.7},{"d":2527.6,"v":-39.1},{"d":2527.9,"v":-38.8},{"d":2528.2,"v":-38.3},{"d":2528.5,"v":-38.7},{"d":2528.8,"v":-38.2},{"d":2529.1,"v":-38.6},{"d":2529.4,"v":-38.2},{"d":2529.7,"v":-38.4},{"d":2530.0,"v":-38.3},{"d":2530.4,"v":-38.4},{"d":2530.7,"v":-38.1},{"d":2531.0,"v":-38.6},{"d":2531.3,"v":-38.2},{"d":2531.6,"v":-38.8},{"d":2531.9,"v":-38.2},{"d":2532.2,"v":-37.9},{"d":2532.5,"v":-37.8},{"d":2532.8,"v":-37.5},{"d":2533.1,"v":-37.3},{"d":2533.4,"v":-38.3},{"d":2533.7,"v":-37.7},{"d":2534.0,"v":-37.3},{"d":2534.3,"v":-37.5},{"d":2534.6,"v":-37.8},{"d":2534.9,"v":-37.7},{"d":2535.2,"v":-38.2},{"d":2535.4,"v":-39.5},{"d":2535.7,"v":-41.3},{"d":2536.0,"v":-43.2},{"d":2536.3,"v":-44.0},{"d":2536.6,"v":-43.1},{"d":2536.9,"v":-44.5},{"d":2537.2,"v":-43.7},{"d":2537.5,"v":-45.1},{"d":2537.8,"v":-44.2},{"d":2538.1,"v":-45.4},{"d":2538.4,"v":-43.9},{"d":2538.7,"v":-45.7},{"d":2539.0,"v":-44.7},{"d":2539.3,"v":-46.1},{"d":2539.6,"v":-44.7},{"d":2539.9,"v":-43.6},{"d":2540.2,"v":-45.2},{"d":2540.5,"v":-43.3},{"d":2540.8,"v":-45.0},{"d":2541.1,"v":-44.5},{"d":2541.4,"v":-45.6},{"d":2541.7,"v":-44.0},{"d":2542.0,"v":-44.7},{"d":2542.3,"v":-44.2},{"d":2542.6,"v":-45.4},{"d":2542.9,"v":-43.6},{"d":2543.2,"v":-44.6},{"d":2543.5,"v":-44.2},{"d":2543.8,"v":-45.1},{"d":2544.1,"v":-43.2},{"d":2544.4,"v":-44.5},{"d":2544.7,"v":-43.8},{"d":2545.0,"v":-46.1},{"d":2545.3,"v":-44.2},{"d":2545.6,"v":-44.4},{"d":2545.9,"v":-43.7},{"d":2546.2,"v":-44.2},{"d":2546.5,"v":-43.2},{"d":2546.8,"v":-45.2},{"d":2547.1,"v":-43.2},{"d":2547.4,"v":-42.7},{"d":2547.7,"v":-42.8},{"d":2548.0,"v":-42.2},{"d":2548.3,"v":-41.6},{"d":2548.6,"v":-40.2},{"d":2548.9,"v":-39.6},{"d":2549.3,"v":-39.1},{"d":2549.6,"v":-39.8},{"d":2549.9,"v":-40.3},{"d":2550.2,"v":-40.7},{"d":2550.5,"v":-41.4},{"d":2550.8,"v":-40.9},{"d":2551.1,"v":-40.4},{"d":2551.4,"v":-39.8},{"d":2551.7,"v":-40.1},{"d":2552.0,"v":-40.6},{"d":2552.3,"v":-40.1},{"d":2552.6,"v":-39.8},{"d":2552.9,"v":-39.8},{"d":2553.2,"v":-39.6},{"d":2553.5,"v":-39.8},{"d":2553.8,"v":-39.5},{"d":2554.1,"v":-39.7},{"d":2554.4,"v":-39.5},{"d":2554.7,"v":-40.0},{"d":2555.0,"v":-38.7},{"d":2555.3,"v":-38.8},{"d":2555.6,"v":-38.8},{"d":2555.9,"v":-39.6},{"d":2556.2,"v":-39.2},{"d":2556.5,"v":-39.5},{"d":2556.8,"v":-38.9},{"d":2557.1,"v":-39.8},{"d":2557.4,"v":-39.5},{"d":2557.7,"v":-39.2},{"d":2558.0,"v":-39.6},{"d":2558.3,"v":-39.1},{"d":2558.6,"v":-39.6},{"d":2558.9,"v":-39.4},{"d":2559.2,"v":-39.3},{"d":2559.5,"v":-39.1}],
"td3":[{"d":2532.2,"v":1.65,"t":"19"}],
"tc3":[{"d":2546.2,"v":525.8,"t":"19"}],
"to3":[{"d":2535.4,"v":-36.0,"t":"19"}]
},
"hconcat":[
{"width":303,"height":607,
"resolve":{"scale":{"y":"independent"},"axis":{"x":"independent","y":"independent"}},
"layer":[
{"data":{"name":"vl1"},"mark":{"type":"rule","color":"#b4b4b4","strokeWidth":3},"encoding":{"x":{"field":"d","type":"quantitative","scale":{"domain":[1860,1925],"nice":false,"zero":false},"axis":{"orient":"bottom","values":[1860,1865,1870,1875,1880,1885,1890,1895,1900,1905,1910,1915,1920,1925],"labelExpr":"datum.value % 10 === 0 ? '' + datum.value : ''","title":null,"labelPadding":14}}}},
{"data":{"name":"tac1"},"mark":{"type":"errorbar","ticks":true,"size":20,"thickness":1,"color":"#2020ff","opacity":0.85},"encoding":{"x":{"field":"d","type":"quantitative","scale":{"domain":[1860,1925],"nice":false,"zero":false},"axis":null},"y":{"field":"v","type":"quantitative","scale":{"domain":[40.1,110.1],"nice":false,"zero":false},"axis":null},"yError":{"field":"e"}}},
{"data":{"name":"tac1"},"mark":{"type":"line","color":"#0000ff","strokeWidth":1,"point":{"shape":"cross","size":28,"filled":true,"color":"#0000ff"}},"encoding":{"x":{"field":"d","type":"quantitative","scale":{"domain":[1860,1925],"nice":false,"zero":false},"axis":null},"y":{"field":"v","type":"quantitative","scale":{"domain":[40.1,110.1],"nice":false,"zero":false},"axis":{"orient":"left","values":[90,92.5,95,97.5,100,102.5,105,107.5,110],"labelExpr":"datum.value % 5 === 0 ? '' + datum.value : ''","title":"TAC [mL/kg]","titleX":-56.7,"titleY":92,"titleAngle":270,"titleAlign":"center","titleBaseline":"middle"}}}},
{"data":{"name":"sm1"},"mark":{"type":"line","color":"#ff0000","strokeWidth":3.5,"interpolate":"monotone"},"encoding":{"x":{"field":"d","type":"quantitative","scale":{"domain":[1860,1925],"nice":false,"zero":false},"axis":{"orient":"top","values":[1860,1865,1870,1875,1880,1885,1890,1895,1900,1905,1910,1915,1920,1925],"labels":false,"title":null}},"y":{"field":"v","type":"quantitative","scale":{"domain":[40.1,110.1],"nice":false,"zero":false},"axis":null}}},
{"data":{"name":"ca1"},"mark":{"type":"line","color":"#a0a0a0","strokeWidth":1.2,"point":{"size":6,"filled":true,"color":"#a0a0a0"}},"encoding":{"x":{"field":"d","type":"quantitative","scale":{"domain":[1860,1925],"nice":false,"zero":false},"axis":null},"y":{"field":"v","type":"quantitative","scale":{"domain":[-2.14,2.566],"nice":false,"zero":false},"axis":null}}},
{"data":{"name":"du1"},"mark":{"type":"line","color":"#000000","strokeWidth":1.2,"point":{"size":6,"filled":true,"color":"#000000"}},"encoding":{"x":{"field":"d","type":"quantitative","scale":{"domain":[1860,1925],"nice":false,"zero":false},"axis":null},"y":{"field":"v","type":"quantitative","scale":{"domain":[-20.02,24.12],"nice":false,"zero":false},"axis":{"orient":"left","values":[0,1,2,3,4,5,6,7,8],"labelExpr":"datum.value % 2 === 0 ? '' + datum.value : ''","title":"Dust [mg/kg]","titleX":-36.7,"titleY":274,"titleAngle":270,"titleAlign":"center","titleBaseline":"middle"}}}},
{"data":{"name":"ch1"},"mark":{"type":"line","color":"#00ee00","strokeWidth":1,"point":{"shape":"square","size":12,"filled":true,"color":"#00dd00"}},"encoding":{"x":{"field":"d","type":"quantitative","scale":{"domain":[1860,1925],"nice":false,"zero":false},"axis":null},"y":{"field":"v","type":"quantitative","scale":{"domain":[99.8,1206.1],"nice":false,"zero":false},"axis":{"orient":"left","values":[350,375,400,425,450,475,500,525,550],"labelExpr":"datum.value % 50 === 0 ? '' + datum.value : ''","title":"CH₄ [ppbv]","titleX":-60,"titleY":392,"titleAngle":270,"titleAlign":"center","titleBaseline":"middle"}}}},
{"data":{"name":"ox1"},"mark":{"type":"line","color":"#ff0000","strokeWidth":1,"point":{"size":5,"filled":true,"color":"#ff0000"}},"encoding":{"x":{"field":"d","type":"quantitative","scale":{"domain":[1860,1925],"nice":false,"zero":false},"axis":null},"y":{"field":"v","type":"quantitative","scale":{"domain":[-46.92,-0.23],"nice":false,"zero":false},"axis":{"orient":"left","values":[-46,-45,-44,-43,-42,-41,-40,-39,-38],"labelExpr":"datum.value % 2 === 0 ? '' + datum.value : ''","title":"δ¹⁸O [‰]","titleX":-51.7,"titleY":547,"titleAngle":270,"titleAlign":"center","titleBaseline":"middle"}}}},
{"data":{"name":"td1"},"mark":{"type":"text","fontSize":18,"color":"#000000"},"encoding":{"x":{"field":"d","type":"quantitative","scale":{"domain":[1860,1925],"nice":false,"zero":false},"axis":null},"y":{"field":"v","type":"quantitative","scale":{"domain":[-20.02,24.12],"nice":false,"zero":false},"axis":null},"text":{"field":"t"}}},
{"data":{"name":"tc1"},"mark":{"type":"text","fontSize":18,"color":"#000000"},"encoding":{"x":{"field":"d","type":"quantitative","scale":{"domain":[1860,1925],"nice":false,"zero":false},"axis":null},"y":{"field":"v","type":"quantitative","scale":{"domain":[99.8,1206.1],"nice":false,"zero":false},"axis":null},"text":{"field":"t"}}},
{"data":{"name":"to1"},"mark":{"type":"text","fontSize":18,"color":"#000000"},"encoding":{"x":{"field":"d","type":"quantitative","scale":{"domain":[1860,1925],"nice":false,"zero":false},"axis":null},"y":{"field":"v","type":"quantitative","scale":{"domain":[-46.92,-0.23],"nice":false,"zero":false},"axis":null},"text":{"field":"t"}}}
]},
{"width":304,"height":607,
"resolve":{"scale":{"y":"independent"},"axis":{"x":"independent","y":"independent"}},
"layer":[
{"data":{"name":"vl2"},"mark":{"type":"rule","color":"#b4b4b4","strokeWidth":3},"encoding":{"x":{"field":"d","type":"quantitative","scale":{"domain":[2094.9,2155.7],"nice":false,"zero":false},"axis":{"orient":"bottom","values":[2100,2105,2110,2115,2120,2125,2130,2135,2140,2145,2150,2155],"labelExpr":"datum.value % 10 === 0 ? '' + datum.value : ''","title":"Depth [m]","titleX":175,"titleY":43,"titleBaseline":"middle","labelPadding":14}}}},
{"data":{"name":"tac2"},"mark":{"type":"errorbar","ticks":true,"size":20,"thickness":1,"color":"#2020ff","opacity":0.85},"encoding":{"x":{"field":"d","type":"quantitative","scale":{"domain":[2094.9,2155.7],"nice":false,"zero":false},"axis":null},"y":{"field":"v","type":"quantitative","scale":{"domain":[40.1,110.1],"nice":false,"zero":false},"axis":null},"yError":{"field":"e"}}},
{"data":{"name":"tac2"},"mark":{"type":"line","color":"#0000ff","strokeWidth":1,"point":{"shape":"cross","size":28,"filled":true,"color":"#0000ff"}},"encoding":{"x":{"field":"d","type":"quantitative","scale":{"domain":[2094.9,2155.7],"nice":false,"zero":false},"axis":null},"y":{"field":"v","type":"quantitative","scale":{"domain":[40.1,110.1],"nice":false,"zero":false},"axis":null}}},
{"data":{"name":"sm2"},"mark":{"type":"line","color":"#ff0000","strokeWidth":3.5,"interpolate":"monotone"},"encoding":{"x":{"field":"d","type":"quantitative","scale":{"domain":[2094.9,2155.7],"nice":false,"zero":false},"axis":{"orient":"top","values":[2100,2105,2110,2115,2120,2125,2130,2135,2140,2145,2150,2155],"labels":false,"title":null}},"y":{"field":"v","type":"quantitative","scale":{"domain":[40.1,110.1],"nice":false,"zero":false},"axis":null}}},
{"data":{"name":"ca2"},"mark":{"type":"line","color":"#a0a0a0","strokeWidth":1.2,"point":{"size":6,"filled":true,"color":"#a0a0a0"}},"encoding":{"x":{"field":"d","type":"quantitative","scale":{"domain":[2094.9,2155.7],"nice":false,"zero":false},"axis":null},"y":{"field":"v","type":"quantitative","scale":{"domain":[-2.14,2.566],"nice":false,"zero":false},"axis":null}}},
{"data":{"name":"du2"},"mark":{"type":"line","color":"#000000","strokeWidth":1.2,"point":{"size":6,"filled":true,"color":"#000000"}},"encoding":{"x":{"field":"d","type":"quantitative","scale":{"domain":[2094.9,2155.7],"nice":false,"zero":false},"axis":null},"y":{"field":"v","type":"quantitative","scale":{"domain":[-20.02,24.12],"nice":false,"zero":false},"axis":null}}},
{"data":{"name":"ch2"},"mark":{"type":"line","color":"#00ee00","strokeWidth":1,"point":{"shape":"square","size":12,"filled":true,"color":"#00dd00"}},"encoding":{"x":{"field":"d","type":"quantitative","scale":{"domain":[2094.9,2155.7],"nice":false,"zero":false},"axis":null},"y":{"field":"v","type":"quantitative","scale":{"domain":[99.8,1206.1],"nice":false,"zero":false},"axis":null}}},
{"data":{"name":"ox2"},"mark":{"type":"line","color":"#ff0000","strokeWidth":1,"point":{"size":5,"filled":true,"color":"#ff0000"}},"encoding":{"x":{"field":"d","type":"quantitative","scale":{"domain":[2094.9,2155.7],"nice":false,"zero":false},"axis":null},"y":{"field":"v","type":"quantitative","scale":{"domain":[-46.92,-0.23],"nice":false,"zero":false},"axis":null}}},
{"data":{"name":"td2"},"mark":{"type":"text","fontSize":18,"color":"#000000"},"encoding":{"x":{"field":"d","type":"quantitative","scale":{"domain":[2094.9,2155.7],"nice":false,"zero":false},"axis":null},"y":{"field":"v","type":"quantitative","scale":{"domain":[-20.02,24.12],"nice":false,"zero":false},"axis":null},"text":{"field":"t"}}},
{"data":{"name":"tc2"},"mark":{"type":"text","fontSize":18,"color":"#000000"},"encoding":{"x":{"field":"d","type":"quantitative","scale":{"domain":[2094.9,2155.7],"nice":false,"zero":false},"axis":null},"y":{"field":"v","type":"quantitative","scale":{"domain":[99.8,1206.1],"nice":false,"zero":false},"axis":null},"text":{"field":"t"}}},
{"data":{"name":"to2"},"mark":{"type":"text","fontSize":18,"color":"#000000"},"encoding":{"x":{"field":"d","type":"quantitative","scale":{"domain":[2094.9,2155.7],"nice":false,"zero":false},"axis":null},"y":{"field":"v","type":"quantitative","scale":{"domain":[-46.92,-0.23],"nice":false,"zero":false},"axis":null},"text":{"field":"t"}}}
]},
{"width":304,"height":607,
"resolve":{"scale":{"y":"independent"},"axis":{"x":"independent","y":"independent"}},
"layer":[
{"data":{"name":"vl3"},"mark":{"type":"rule","color":"#b4b4b4","strokeWidth":3},"encoding":{"x":{"field":"d","type":"quantitative","scale":{"domain":[2504.9,2560],"nice":false,"zero":false},"axis":{"orient":"bottom","values":[2505,2510,2515,2520,2525,2530,2535,2540,2545,2550,2555,2560],"labelExpr":"datum.value % 10 === 0 ? '' + datum.value : ''","title":null,"labelPadding":14}}}},
{"data":{"name":"tac3"},"mark":{"type":"errorbar","ticks":true,"size":20,"thickness":1,"color":"#2020ff","opacity":0.85},"encoding":{"x":{"field":"d","type":"quantitative","scale":{"domain":[2504.9,2560],"nice":false,"zero":false},"axis":null},"y":{"field":"v","type":"quantitative","scale":{"domain":[40.1,110.1],"nice":false,"zero":false},"axis":null},"yError":{"field":"e"}}},
{"data":{"name":"tac3"},"mark":{"type":"line","color":"#0000ff","strokeWidth":1,"point":{"shape":"cross","size":28,"filled":true,"color":"#0000ff"}},"encoding":{"x":{"field":"d","type":"quantitative","scale":{"domain":[2504.9,2560],"nice":false,"zero":false},"axis":null},"y":{"field":"v","type":"quantitative","scale":{"domain":[40.1,110.1],"nice":false,"zero":false},"axis":null}}},
{"data":{"name":"sm3"},"mark":{"type":"line","color":"#ff0000","strokeWidth":3.5,"interpolate":"monotone"},"encoding":{"x":{"field":"d","type":"quantitative","scale":{"domain":[2504.9,2560],"nice":false,"zero":false},"axis":{"orient":"top","values":[2505,2510,2515,2520,2525,2530,2535,2540,2545,2550,2555,2560],"labels":false,"title":null}},"y":{"field":"v","type":"quantitative","scale":{"domain":[40.1,110.1],"nice":false,"zero":false},"axis":null}}},
{"data":{"name":"ca3"},"mark":{"type":"line","color":"#a0a0a0","strokeWidth":1.2,"point":{"size":6,"filled":true,"color":"#a0a0a0"}},"encoding":{"x":{"field":"d","type":"quantitative","scale":{"domain":[2504.9,2560],"nice":false,"zero":false},"axis":null},"y":{"field":"v","type":"quantitative","scale":{"domain":[-2.14,2.566],"nice":false,"zero":false},"axis":{"orient":"right","values":[0,0.1,0.2,0.3,0.4,0.5,0.6,0.7,0.8],"labelExpr":"round(datum.value * 10) % 2 === 0 ? '' + datum.value : ''","labelPadding":15.6,"title":"Ca²⁺ [mg/kg]","titleX":56,"titleY":272,"titleAngle":270,"titleAlign":"center","titleBaseline":"middle"}}}},
{"data":{"name":"du3"},"mark":{"type":"line","color":"#000000","strokeWidth":1.2,"point":{"size":6,"filled":true,"color":"#000000"}},"encoding":{"x":{"field":"d","type":"quantitative","scale":{"domain":[2504.9,2560],"nice":false,"zero":false},"axis":null},"y":{"field":"v","type":"quantitative","scale":{"domain":[-20.02,24.12],"nice":false,"zero":false},"axis":null}}},
{"data":{"name":"ch3"},"mark":{"type":"line","color":"#00ee00","strokeWidth":1,"point":{"shape":"square","size":12,"filled":true,"color":"#00dd00"}},"encoding":{"x":{"field":"d","type":"quantitative","scale":{"domain":[2504.9,2560],"nice":false,"zero":false},"axis":null},"y":{"field":"v","type":"quantitative","scale":{"domain":[99.8,1206.1],"nice":false,"zero":false},"axis":null}}},
{"data":{"name":"ox3"},"mark":{"type":"line","color":"#ff0000","strokeWidth":1,"point":{"size":5,"filled":true,"color":"#ff0000"}},"encoding":{"x":{"field":"d","type":"quantitative","scale":{"domain":[2504.9,2560],"nice":false,"zero":false},"axis":null},"y":{"field":"v","type":"quantitative","scale":{"domain":[-46.92,-0.23],"nice":false,"zero":false},"axis":null}}},
{"data":{"name":"td3"},"mark":{"type":"text","fontSize":18,"color":"#000000"},"encoding":{"x":{"field":"d","type":"quantitative","scale":{"domain":[2504.9,2560],"nice":false,"zero":false},"axis":null},"y":{"field":"v","type":"quantitative","scale":{"domain":[-20.02,24.12],"nice":false,"zero":false},"axis":null},"text":{"field":"t"}}},
{"data":{"name":"tc3"},"mark":{"type":"text","fontSize":18,"color":"#000000"},"encoding":{"x":{"field":"d","type":"quantitative","scale":{"domain":[2504.9,2560],"nice":false,"zero":false},"axis":null},"y":{"field":"v","type":"quantitative","scale":{"domain":[99.8,1206.1],"nice":false,"zero":false},"axis":null},"text":{"field":"t"}}},
{"data":{"name":"to3"},"mark":{"type":"text","fontSize":18,"color":"#000000"},"encoding":{"x":{"field":"d","type":"quantitative","scale":{"domain":[2504.9,2560],"nice":false,"zero":false},"axis":null},"y":{"field":"v","type":"quantitative","scale":{"domain":[-46.92,-0.23],"nice":false,"zero":false},"axis":null},"text":{"field":"t"}}}
]}
]
}
